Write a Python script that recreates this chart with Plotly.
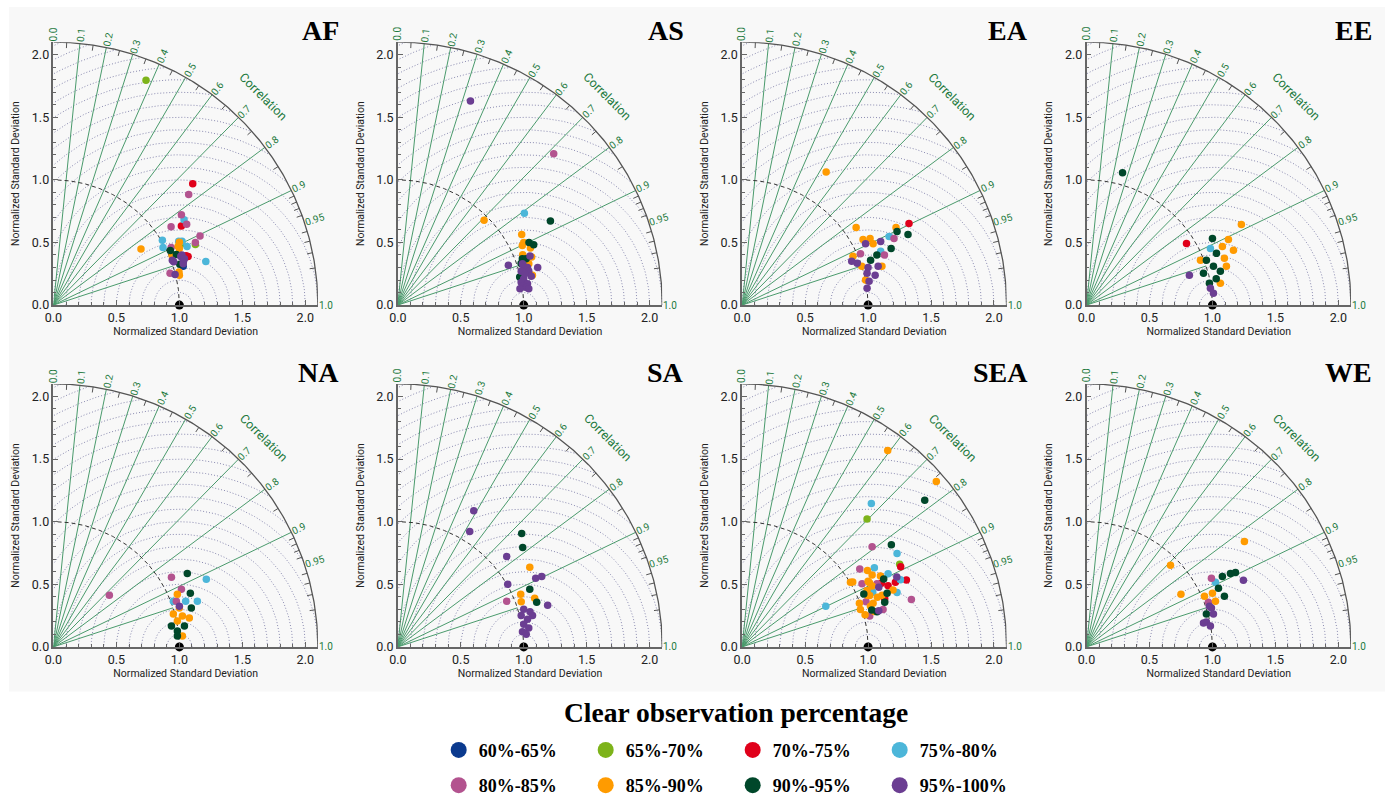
import numpy as np
import plotly.graph_objects as go

# ---------------- data (normalized std components) -------------
regions = ["AF", "AS", "EA", "EE", "NA", "SA", "SEA", "WE"]
classes = ["60%-65%", "65%-70%", "70%-75%", "75%-80%", "80%-85%", "85%-90%", "90%-95%", "95%-100%"]
class_codes = ["b", "g", "r", "c", "m", "o", "d", "p"]
class_colors = ["#0b3a8e", "#7db31a", "#e0001a", "#4cb6d9", "#b3538f", "#ff9b00", "#00472a", "#6b3e92"]

corr_labels = [0.0, 0.1, 0.2, 0.3, 0.4, 0.5, 0.6, 0.7, 0.8, 0.9, 0.95, 1.0]
corr_lines = [0.1, 0.2, 0.3, 0.4, 0.5, 0.6, 0.7, 0.8, 0.9]
corr_minor = [0.05, 0.15, 0.25, 0.35, 0.45, 0.55, 0.65, 0.75, 0.85, 0.91, 0.92, 0.93, 0.94,
              0.96, 0.97, 0.98, 0.99]
std_ticks = [0.0, 0.5, 1.0, 1.5, 2.0]
rms_levels = [round(0.1 * i, 1) for i in range(1, 24)]

AF = [("m", 1.016, 0.721), ("m", 1.074, 0.883), ("m", 1.058, 0.645), ("m", 0.934, 0.626),
      ("m", 1.164, 0.552), ("m", 1.127, 0.499), ("m", 0.926, 0.255), ("m", 0.935, 0.46),
      ("r", 1.106, 0.968), ("r", 1.016, 0.631), ("r", 1.053, 0.393), ("r", 1.069, 0.387),
      ("g", 0.735, 1.796), ("g", 1.127, 0.483), ("g", 1.02, 0.49),
      ("c", 1.037, 0.682), ("c", 0.865, 0.517), ("c", 0.995, 0.509), ("c", 1.021, 0.509),
      ("c", 0.870, 0.459), ("c", 1.061, 0.467), ("c", 1.210, 0.347),
      ("o", 1.0, 0.501), ("o", 0.695, 0.448), ("o", 1.0, 0.451), ("o", 0.942, 0.398),
      ("o", 0.997, 0.265), ("o", 1.0, 0.239), ("o", 0.99, 0.47),
      ("d", 0.928, 0.435), ("d", 0.976, 0.403), ("d", 1.003, 0.326),
      ("b", 1.03, 0.31),
      ("p", 1.011, 0.387), ("p", 0.944, 0.358), ("p", 0.955, 0.345), ("p", 1.032, 0.345),
      ("p", 1.03, 0.33), ("p", 1.02, 0.40), ("p", 0.966, 0.244), ("p", 1.04, 0.37)]

AS = [("p", 0.577, 1.630), ("p", 1.05, 0.392), ("p", 0.878, 0.317), ("p", 1.111, 0.299),
      ("p", 1.0, 0.31), ("p", 1.03, 0.30), ("p", 0.98, 0.27), ("p", 1.04, 0.27), ("p", 1.06, 0.23),
      ("p", 1.0, 0.21), ("p", 0.98, 0.18), ("p", 1.03, 0.17), ("p", 0.99, 0.15), ("p", 1.02, 0.14),
      ("p", 0.97, 0.13), ("p", 1.04, 0.13), ("p", 1.01, 0.25), ("p", 0.99, 0.33),
      ("m", 1.238, 1.209), ("c", 1.005, 0.733),
      ("o", 0.685, 0.677), ("o", 0.984, 0.563), ("o", 0.989, 0.476), ("o", 1.0, 0.5),
      ("o", 1.053, 0.455), ("o", 0.992, 0.402), ("o", 1.063, 0.384), ("o", 1.069, 0.238),
      ("o", 1.04, 0.33),
      ("d", 1.212, 0.672), ("d", 1.042, 0.5), ("d", 1.079, 0.481), ("d", 0.989, 0.370),
      ("d", 1.019, 0.370), ("d", 0.979, 0.331), ("d", 0.968, 0.225)]

EA = [("o", 0.667, 1.063), ("o", 0.905, 0.619), ("o", 1.222, 0.619), ("o", 0.96, 0.524),
      ("o", 1.016, 0.532), ("o", 1.04, 0.49), ("o", 0.88, 0.39), ("o", 0.95, 0.31), ("o", 1.11, 0.31),
      ("o", 0.98, 0.20),
      ("r", 1.325, 0.651),
      ("d", 1.317, 0.563), ("d", 1.23, 0.587), ("d", 1.183, 0.452), ("d", 1.02, 0.357), ("d", 1.07, 0.40),
      ("c", 1.167, 0.548), ("c", 1.10, 0.43),
      ("m", 1.206, 0.532), ("m", 0.94, 0.41), ("m", 1.13, 0.40),
      ("p", 1.10, 0.508), ("p", 0.98, 0.49), ("p", 0.913, 0.333), ("p", 0.87, 0.35), ("p", 0.992, 0.254),
      ("p", 1.008, 0.19), ("p", 0.992, 0.135), ("p", 1.056, 0.238), ("p", 1.08, 0.31), ("p", 1.0, 0.30)]

EE = [("d", 0.286, 1.056), ("d", 1.0, 0.532), ("d", 0.952, 0.357), ("d", 1.008, 0.309),
      ("d", 1.063, 0.270), ("d", 0.929, 0.254), ("d", 1.032, 0.413), ("d", 0.976, 0.175), ("d", 1.03, 0.21),
      ("o", 1.23, 0.643), ("o", 1.127, 0.524), ("o", 1.079, 0.468), ("o", 1.167, 0.437),
      ("o", 0.905, 0.357), ("o", 1.095, 0.373), ("o", 1.111, 0.309), ("o", 1.063, 0.175),
      ("r", 0.794, 0.492),
      ("p", 0.817, 0.238), ("p", 0.984, 0.135), ("p", 1.008, 0.095),
      ("c", 0.984, 0.452)]

NA = [("m", 0.444, 0.413), ("m", 0.937, 0.556), ("m", 1.016, 0.46), ("m", 0.976, 0.365),
      ("c", 1.214, 0.540), ("c", 1.143, 0.365), ("c", 0.952, 0.365), ("c", 1.05, 0.365),
      ("d", 1.063, 0.587), ("d", 1.087, 0.429), ("d", 1.095, 0.310), ("d", 0.937, 0.167),
      ("d", 0.984, 0.127), ("d", 1.04, 0.167), ("d", 0.984, 0.087),
      ("o", 0.984, 0.421), ("o", 1.0, 0.310), ("o", 1.024, 0.246), ("o", 0.984, 0.206),
      ("o", 1.024, 0.087), ("o", 1.079, 0.230), ("o", 0.952, 0.262),
      ("p", 1.0, 0.325)]

SA = [("p", 0.603, 1.087), ("p", 0.571, 0.921), ("p", 0.865, 0.722), ("p", 0.873, 0.5),
      ("p", 1.095, 0.548), ("p", 1.143, 0.563), ("p", 1.19, 0.333), ("p", 1.0, 0.30), ("p", 1.05, 0.28),
      ("p", 0.98, 0.25), ("p", 1.03, 0.22), ("p", 1.0, 0.18), ("p", 1.04, 0.15), ("p", 0.99, 0.12),
      ("p", 1.02, 0.10), ("p", 1.07, 0.25),
      ("d", 0.992, 0.794), ("d", 0.984, 0.905), ("d", 1.048, 0.460), ("d", 1.103, 0.357),
      ("o", 1.048, 0.635), ("o", 0.976, 0.421), ("o", 1.087, 0.389), ("o", 0.98, 0.36),
      ("m", 0.865, 0.365)]

SEA = [("o", 1.156, 1.569), ("o", 1.542, 1.320), ("o", 0.995, 0.611), ("o", 1.032, 0.574),
       ("o", 1.098, 0.566), ("o", 0.878, 0.519), ("o", 0.860, 0.516), ("o", 1.0, 0.524),
       ("o", 1.011, 0.513), ("o", 1.032, 0.487), ("o", 1.198, 0.455), ("o", 0.992, 0.450),
       ("o", 0.997, 0.410), ("o", 0.931, 0.349), ("o", 1.074, 0.397), ("o", 1.013, 0.410),
       ("o", 1.111, 0.413), ("o", 1.04, 0.349), ("o", 1.019, 0.325), ("o", 0.939, 0.299),
       ("o", 0.976, 0.257), ("o", 1.050, 0.283),
       ("d", 1.450, 1.172), ("d", 1.185, 0.815), ("d", 1.124, 0.542), ("d", 0.966, 0.423),
       ("d", 1.151, 0.429), ("d", 1.132, 0.357), ("d", 1.029, 0.294), ("d", 1.071, 0.280),
       ("c", 1.026, 1.146), ("c", 1.230, 0.746), ("c", 1.050, 0.632), ("c", 1.159, 0.585),
       ("c", 1.257, 0.537), ("c", 1.230, 0.434), ("c", 1.037, 0.437), ("c", 0.664, 0.325),
       ("g", 0.992, 1.021), ("g", 1.251, 0.659),
       ("m", 1.032, 0.799), ("m", 0.934, 0.622), ("m", 0.952, 0.505), ("m", 1.071, 0.505),
       ("m", 1.344, 0.378), ("m", 0.984, 0.360), ("m", 1.119, 0.299), ("m", 1.013, 0.246),
       ("r", 1.259, 0.640), ("r", 1.304, 0.534), ("r", 1.106, 0.508), ("r", 1.159, 0.489),
       ("r", 1.217, 0.516), ("r", 1.132, 0.384),
       ("p", 1.228, 0.558), ("p", 1.085, 0.476), ("p", 1.085, 0.288)]

WE = [("o", 1.254, 0.841), ("o", 0.667, 0.651), ("o", 1.000, 0.429), ("o", 0.937, 0.405),
      ("o", 0.75, 0.42), ("o", 1.024, 0.365),
      ("d", 1.143, 0.587), ("d", 1.183, 0.595), ("d", 1.079, 0.563), ("d", 1.048, 0.468),
      ("d", 1.095, 0.405), ("d", 0.952, 0.262),
      ("p", 1.246, 0.532), ("p", 0.992, 0.310), ("p", 1.008, 0.262), ("p", 0.952, 0.198),
      ("p", 0.984, 0.167), ("p", 0.929, 0.190), ("p", 0.976, 0.325),
      ("m", 0.992, 0.548), ("m", 0.968, 0.357),
      ("c", 1.024, 0.516)]

region_points = [AF, AS, EA, EE, NA, SA, SEA, WE]

# ---------------- layout geometry ----------------
W, H = 1391, 804
# the photographed drawing area (observed): x from 8 to 1391, y from 0 to ~790
FRAME_X0, FRAME_W, FRAME_H = 8.0, 1383.0, 790.0


def FX(X):
    return (X - FRAME_X0) / FRAME_W


def FY(Y):
    return 1.0 - Y / FRAME_H


UNIT = 126.0          # pixels per unit of normalized std
R = 2.1               # outer radius
X0, Y0 = 52.5, 307.0  # origin of first panel (pixels)
DX, DY = 344.6, 344.0

GREEN_LINE = "#4a9a6c"
GREEN_TEXT = "#1e7a3e"
GRID = "#8a8ab0"
AXIS = "#666666"
SANS = "Roboto"
SERIF = "Liberation Serif"

fig = go.Figure()
annotations = []
layout_axes = {}


def polar_paper(ox, oy, r, th):
    return FX(ox + r * UNIT * np.cos(th)), FY(oy - r * UNIT * np.sin(th))


for k, reg in enumerate(regions):
    row, col = divmod(k, 4)
    ox = X0 + col * DX
    oy = Y0 + row * DY
    xa = "x" if k == 0 else f"x{k+1}"
    ya = "y" if k == 0 else f"y{k+1}"
    xkey = "xaxis" if k == 0 else f"xaxis{k+1}"
    ykey = "yaxis" if k == 0 else f"yaxis{k+1}"
    common = dict(range=[0, R], showgrid=False, zeroline=False, showline=True,
                  linecolor=AXIS, linewidth=1.5, ticks="inside", ticklen=5, tickcolor=AXIS,
                  tickvals=std_ticks, ticktext=[f"{v:.1f}" for v in std_ticks],
                  tickfont=dict(family=SANS, size=12.5, color="#222"),
                  minor=dict(dtick=0.1, tick0=0, ticks="inside", ticklen=3, tickcolor=AXIS),
                  fixedrange=True)
    layout_axes[xkey] = dict(common, domain=[FX(ox), FX(ox + R * UNIT)], anchor=ya,
                             title=dict(text="Normalized Standard Deviation", standoff=4,
                                        font=dict(family=SANS, size=10.5, color="#222")))
    layout_axes[ykey] = dict(common, domain=[FY(oy), FY(oy - R * UNIT)], anchor=xa,
                             title=dict(text="Normalized Standard Deviation", standoff=10,
                                        font=dict(family=SANS, size=10.5, color="#222")))

    # RMS (centered) difference circles around the reference point
    gx, gy = [], []
    for lev in rms_levels:
        lo = np.arccos(np.clip((R ** 2 - 1 - lev ** 2) / (2 * lev), -1, 1))
        hi = np.arccos(np.clip(-1.0 / lev, -1, 1)) if lev > 1 else np.pi
        if hi <= lo:
            continue
        ph = np.linspace(lo, hi, 160)
        gx += list(1 + lev * np.cos(ph)) + [None]
        gy += list(lev * np.sin(ph)) + [None]
    fig.add_trace(go.Scatter(x=gx, y=gy, xaxis=xa, yaxis=ya, mode="lines",
                             line=dict(color=GRID, width=1, dash="1px,2px"),
                             hoverinfo="skip", showlegend=False))

    # correlation rays
    cx, cy = [], []
    for c in corr_lines:
        th = np.arccos(c)
        cx += [0, R * np.cos(th), None]
        cy += [0, R * np.sin(th), None]
    th = np.arccos(0.95)
    cx += [0, 1.0 * np.cos(th), None]
    cy += [0, 1.0 * np.sin(th), None]
    fig.add_trace(go.Scatter(x=cx, y=cy, xaxis=xa, yaxis=ya, mode="lines",
                             line=dict(color=GREEN_LINE, width=1),
                             hoverinfo="skip", showlegend=False))

    # outer arc and its ticks
    ph = np.linspace(0, np.pi / 2, 200)
    fig.add_trace(go.Scatter(x=R * np.cos(ph), y=R * np.sin(ph), xaxis=xa, yaxis=ya, mode="lines",
                             line=dict(color="#555555", width=1.3), cliponaxis=False,
                             hoverinfo="skip", showlegend=False))
    tx, ty = [], []
    for c in corr_minor:
        th = np.arccos(c)
        tx += [R * np.cos(th), (R - 0.045) * np.cos(th), None]
        ty += [R * np.sin(th), (R - 0.045) * np.sin(th), None]
    fig.add_trace(go.Scatter(x=tx, y=ty, xaxis=xa, yaxis=ya, mode="lines",
                             line=dict(color="#555555", width=1),
                             hoverinfo="skip", showlegend=False))

    # dashed reference std arc
    fig.add_trace(go.Scatter(x=np.cos(ph), y=np.sin(ph), xaxis=xa, yaxis=ya, mode="lines",
                             line=dict(color="#333333", width=1, dash="4px,3px"),
                             hoverinfo="skip", showlegend=False))

    # data points by class
    pts = region_points[k]
    for code, cname, ccol in zip(class_codes, classes, class_colors):
        sel = [(x, y) for (cc, x, y) in pts if cc == code]
        if not sel:
            continue
        fig.add_trace(go.Scatter(x=[p[0] for p in sel], y=[p[1] for p in sel], xaxis=xa, yaxis=ya,
                                 mode="markers", marker=dict(size=7.5, color=ccol),
                                 name=cname, legendgroup=cname, showlegend=False))

    # reference point
    fig.add_trace(go.Scatter(x=[1.0], y=[0.0], xaxis=xa, yaxis=ya, mode="markers",
                             marker=dict(size=9, color="black"), cliponaxis=False,
                             hoverinfo="skip", showlegend=False))

    # correlation labels (placed in paper coords so they are not hidden outside the range)
    fs = 10
    for c in corr_labels:
        th = np.arccos(c)
        txt = f"{c:g}" if c not in (0.0, 1.0) else f"{c:.1f}"
        L = fs * 0.45 * len(txt)
        rr = R + (1.5 + L / 2) / UNIT
        px, py = polar_paper(ox, oy, rr, th)
        annotations.append(dict(x=px, y=py, xref="paper", yref="paper",
                                text=txt, showarrow=False, textangle=-np.degrees(th),
                                xanchor="center", yanchor="middle",
                                font=dict(family=SANS, size=fs, color=GREEN_TEXT)))
    px, py = polar_paper(ox, oy, 2.36, np.pi / 4)
    annotations.append(dict(x=px, y=py, xref="paper", yref="paper",
                            text="Correlation", showarrow=False, textangle=45,
                            xanchor="center", yanchor="middle",
                            font=dict(family=SANS, size=12.5, color=GREEN_TEXT)))
    # panel title
    annotations.append(dict(x=FX(ox + 288), y=FY(oy - 276), xref="paper", yref="paper",
                            text=f"<b>{reg}</b>", showarrow=False, xanchor="right", yanchor="middle",
                            font=dict(family=SERIF, size=28, color="black")))

# legend-only traces (two rows of four)
for i, (cname, ccol) in enumerate(zip(classes, class_colors)):
    fig.add_trace(go.Scatter(x=[None], y=[None], xaxis="x", yaxis="y", mode="markers",
                             marker=dict(size=16, color=ccol), name=cname, legendgroup=cname,
                             legend="legend" if i < 4 else "legend2", showlegend=True))

annotations.append(dict(x=FX(736), y=FY(717), xref="paper", yref="paper",
                        text="<b>Clear observation percentage</b>", showarrow=False,
                        xanchor="center", yanchor="middle",
                        font=dict(family=SERIF, size=27.5, color="black")))

legend_common = dict(orientation="h", xanchor="left", yanchor="middle",
                     entrywidth=102, entrywidthmode="pixels", bgcolor="rgba(0,0,0,0)",
                     font=dict(family=SERIF, size=18, color="black", weight="bold"),
                     itemclick=False, itemdoubleclick=False, tracegroupgap=0)

fig.update_layout(
    width=W, height=H, margin=dict(l=0, r=0, t=0, b=0),
    paper_bgcolor="white", plot_bgcolor="rgba(0,0,0,0)",
    annotations=annotations,
    shapes=[dict(type="rect", xref="paper", yref="paper", x0=FX(8), x1=FX(1385),
                 y0=FY(696), y1=FY(7), fillcolor="#f8f8f8", line=dict(width=0),
                 layer="below")],
    legend=dict(legend_common, x=FX(438), y=FY(755)),
    legend2=dict(legend_common, x=FX(438), y=FY(791)),
    hovermode="closest",
    **layout_axes,
)

fig.write_html("out.html")
